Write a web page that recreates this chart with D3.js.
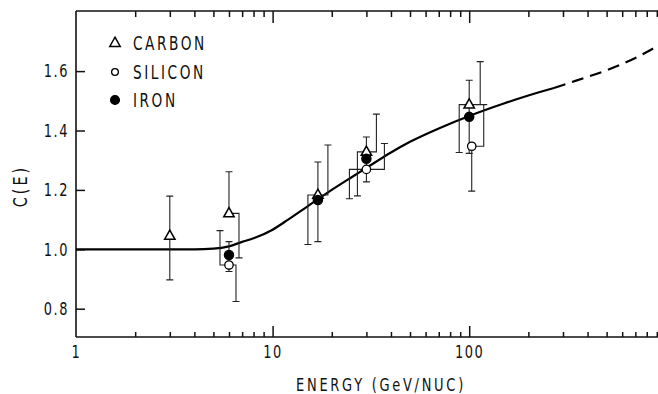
<!DOCTYPE html>
<html>
<head>
<meta charset="utf-8">
<script src="https://cdn.jsdelivr.net/npm/d3@7"></script>
<style>
  html, body { margin: 0; padding: 0; background: #fff; }
  svg { display: block; }
  text { font-family: "Liberation Sans Narrow", "DejaVu Sans Condensed", "Liberation Sans", sans-serif; fill: #111; }
</style>
</head>
<body>
<svg id="chart" width="658" height="394"></svg>
<script>
// Fitted correction curve C(E), solid part
const curveEnergy = [1, 2, 3, 4, 5, 6, 7, 8, 10, 12, 15, 20, 25, 30, 40, 50, 70, 100, 150, 200, 270];
const curveValue  = [1.000, 1.000, 1.000, 1.000, 1.002, 1.010, 1.025, 1.037, 1.066, 1.100, 1.144, 1.200, 1.241, 1.274, 1.326, 1.362, 1.407, 1.449, 1.491, 1.518, 1.543];
// Extrapolated continuation (dashed)
const extrapEnergy = [270, 350, 500, 700, 900, 1000];
const extrapValue  = [1.543, 1.568, 1.603, 1.644, 1.683, 1.700];

// Measurements: energy (GeV/nuc), value, upper and lower end of the error bar
const carbonEnergy = [3, 6, 17, 30, 100];
const carbonValue  = [1.045, 1.121, 1.183, 1.328, 1.487];
const carbonHigh   = [1.179, 1.261, 1.351, 1.455, 1.632];
const carbonLow    = [0.897, 0.971, 1.016, 1.180, 1.326];

const siliconEnergy = [6, 30, 103];
const siliconValue  = [0.947, 1.269, 1.347];
const siliconHigh   = [1.063, 1.356, 1.487];
const siliconLow    = [0.824, 1.170, 1.196];

const ironEnergy = [6, 17, 30, 100];
const ironValue  = [0.981, 1.166, 1.305, 1.446];
const ironHigh   = [1.026, 1.294, 1.378, 1.569];
const ironLow    = [0.925, 1.026, 1.227, 1.323];

const seriesNames = ["CARBON", "SILICON", "IRON"];
const yTickValues = [0.8, 1.0, 1.2, 1.4, 1.6];
const yTickLabels = ["0.8", "1.0", "1.2", "1.4", "1.6"];
const xTickValues = [1, 10, 100];
const xTickLabels = ["1", "10", "100"];

// ---------------------------------------------------------------
const svg = d3.select("#chart");
const plotLeft = 76, plotTop = 11, plotBottom = 337;

const x = d3.scaleLog().domain([1, 1000]).range([plotLeft, 665.8]);
const y = d3.scaleLinear().domain([0.7047, 1.8024]).range([plotBottom, plotTop]);

const ink = "#111";
const squeeze = 0.8; // horizontal compression for the tall, narrow lettering

// compress text horizontally about its own anchor point
function narrow(sel, sx) {
  sel.each(function () {
    const t = d3.select(this);
    const x0 = +t.attr("x") || 0;
    t.attr("x", x0 / sx).attr("transform", `scale(${sx},1)`);
  });
}

// frame: left, top and bottom lines
const frame = svg.append("g").attr("stroke", ink).attr("stroke-width", 1.6).attr("fill", "none");
frame.append("line").attr("x1", plotLeft).attr("x2", plotLeft).attr("y1", plotTop).attr("y2", plotBottom);
frame.append("line").attr("x1", plotLeft).attr("x2", 700).attr("y1", plotTop).attr("y2", plotTop);
frame.append("line").attr("x1", plotLeft).attr("x2", 700).attr("y1", plotBottom).attr("y2", plotBottom);

const minorTicks = x.ticks().filter(v => xTickValues.indexOf(v) < 0 && v < 1000);
const majorTicks = xTickValues.filter(v => v > 1);

function styleAxis(g) {
  g.select(".domain").remove();
  g.selectAll(".tick line").attr("stroke", ink).attr("stroke-width", 1.5);
  g.selectAll("text").attr("font-size", 18).attr("letter-spacing", 2).attr("fill", ink)
    .call(narrow, squeeze);
}

// bottom axis: inward ticks, labels below
svg.append("g").attr("transform", `translate(0,${plotBottom})`)
  .call(d3.axisBottom(x).tickValues(minorTicks).tickSize(-5).tickFormat(""))
  .call(styleAxis);
svg.append("g").attr("transform", `translate(0,${plotBottom})`)
  .call(d3.axisBottom(x).tickValues(majorTicks).tickSize(-11).tickFormat(""))
  .call(styleAxis);
svg.append("g").attr("transform", `translate(0,${plotBottom})`)
  .call(d3.axisBottom(x).tickValues(xTickValues).tickSize(0).tickPadding(8)
        .tickFormat((d, i) => xTickLabels[i]))
  .call(styleAxis);

// top axis: inward ticks only
svg.append("g").attr("transform", `translate(0,${plotTop})`)
  .call(d3.axisTop(x).tickValues(minorTicks).tickSize(-6).tickFormat(""))
  .call(styleAxis);
svg.append("g").attr("transform", `translate(0,${plotTop})`)
  .call(d3.axisTop(x).tickValues(majorTicks).tickSize(-12).tickFormat(""))
  .call(styleAxis);

// left axis
svg.append("g").attr("transform", `translate(${plotLeft},0)`)
  .call(d3.axisLeft(y).tickValues(yTickValues).tickSize(-9).tickPadding(7)
        .tickFormat((d, i) => yTickLabels[i]))
  .call(styleAxis);

// axis titles
svg.append("text")
  .attr("x", 381).attr("y", 391)
  .attr("text-anchor", "middle")
  .attr("font-size", 17).attr("letter-spacing", 3.2)
  .text("ENERGY (GeV/NUC)")
  .call(narrow, 0.85);
svg.append("text")
  .attr("transform", `translate(27,186) rotate(-90) scale(${squeeze},1)`)
  .attr("text-anchor", "middle")
  .attr("font-size", 20).attr("letter-spacing", 3.8)
  .text("C(E)");

// curve
const line = d3.line().x(d => x(d[0])).y(d => y(d[1])).curve(d3.curveMonotoneX);
svg.append("path")
  .datum(curveEnergy.map((e, i) => [e, curveValue[i]]))
  .attr("d", line).attr("fill", "none").attr("stroke", "#000").attr("stroke-width", 2.2);
svg.append("path")
  .datum(extrapEnergy.map((e, i) => [e, extrapValue[i]]))
  .attr("d", line).attr("fill", "none").attr("stroke", "#000").attr("stroke-width", 2.2)
  .attr("stroke-dasharray", "12,7");

// points
function rows(name, E, V, H, L) {
  return E.map((e, i) => ({ name, e, v: V[i], hi: H[i], lo: L[i] }));
}
const carbon  = rows("CARBON",  carbonEnergy,  carbonValue,  carbonHigh,  carbonLow);
const silicon = rows("SILICON", siliconEnergy, siliconValue, siliconHigh, siliconLow);
const iron    = rows("IRON",    ironEnergy,    ironValue,    ironHigh,    ironLow);

// sideways shift (px) of each half of an error bar where bars crowd together
const barShift = {
  "CARBON@6":    { up: 0,  down: 10 },
  "CARBON@17":   { up: 10, down: -10 },
  "CARBON@30":   { up: 10, down: -9 },
  "CARBON@100":  { up: 11, down: -10 },
  "SILICON@6":   { up: -9, down: 7 },
  "SILICON@30":  { up: 18, down: -17 },
  "SILICON@103": { up: 12, down: 0 }
};

const bars = svg.append("g").attr("stroke", "#222").attr("stroke-width", 1.1).attr("fill", "none");
function drawBars(data) {
  data.forEach(d => {
    const sh = barShift[d.name + "@" + d.e] || { up: 0, down: 0 };
    const cx = x(d.e), cy = y(d.v);
    [[d.hi, sh.up], [d.lo, sh.down]].forEach(([end, s]) => {
      const bx = cx + s, ey = y(end);
      const p = d3.path();
      if (s !== 0) { p.moveTo(cx, cy); p.lineTo(bx, cy); } else { p.moveTo(bx, cy); }
      p.lineTo(bx, ey);
      p.moveTo(bx - 3.5, ey); p.lineTo(bx + 3.5, ey);
      bars.append("path").attr("d", p.toString());
    });
  });
}
drawBars(carbon); drawBars(silicon); drawBars(iron);

const triPath = "M0,-5.8L5.2,3.4L-5.2,3.4Z";
function drawTriangles(g, data) {
  g.selectAll(null).data(data).enter().append("path")
    .attr("d", triPath)
    .attr("transform", d => `translate(${x(d.e)},${y(d.v)})`)
    .attr("fill", "#fff").attr("stroke", "#000").attr("stroke-width", 1.5);
}
function drawCircles(g, data, filled) {
  g.selectAll(null).data(data).enter().append("circle")
    .attr("cx", d => x(d.e)).attr("cy", d => y(d.v))
    .attr("r", filled ? 4.6 : 4.2)
    .attr("fill", filled ? "#000" : "#fff").attr("stroke", "#000").attr("stroke-width", 1.3);
}
const marks = svg.append("g");
drawTriangles(marks, carbon);
drawCircles(marks, silicon, false);
drawCircles(marks, iron, true);

// legend
const legend = svg.append("g");
const legendRows = [43, 72, 100];
legendRows.forEach((ly, i) => {
  const g = legend.append("g").attr("transform", `translate(115,${ly})`);
  if (i === 0) g.append("path").attr("d", triPath).attr("fill", "#fff").attr("stroke", "#000").attr("stroke-width", 1.5);
  else g.append("circle").attr("r", i === 1 ? 3.4 : 4.4)
        .attr("fill", i === 2 ? "#000" : "#fff").attr("stroke", "#000").attr("stroke-width", 1.3);
  legend.append("text").attr("x", 133).attr("y", ly + 7)
    .attr("font-size", 19).attr("letter-spacing", 3.2)
    .text(seriesNames[i])
    .call(narrow, squeeze);
});
</script>
</body>
</html>
